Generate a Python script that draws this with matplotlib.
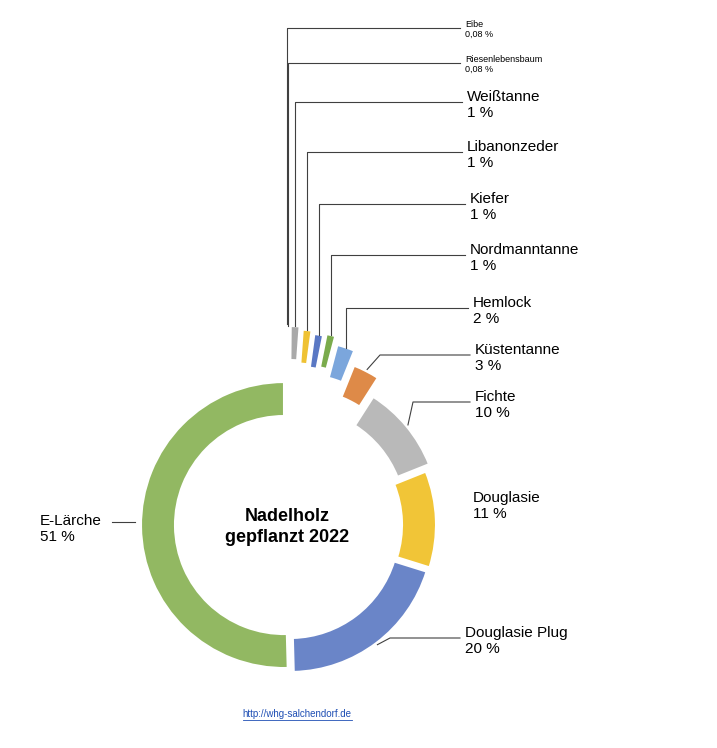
import matplotlib
matplotlib.use("Agg")
import matplotlib.pyplot as plt
import numpy as np

names = ["Eibe", "Riesenlebensbaum", "Weißtanne", "Libanonzeder", "Kiefer", "Nordmanntanne",
         "Hemlock", "Küstentanne", "Fichte", "Douglasie", "Douglasie Plug", "E-Lärche"]
values = [0.08, 0.08, 1, 1, 1, 1, 2, 3, 10, 11, 20, 51]
labels = ["0,08 %", "0,08 %", "1 %", "1 %", "1 %", "1 %", "2 %", "3 %", "10 %", "11 %", "20 %", "51 %"]
colors = ["#8fb0dc", "#e0a070", "#a9a9a9", "#efc234", "#5a78c4", "#7aab4c",
          "#7ba6dc", "#de8a48", "#b9b9b9", "#f1c537", "#6a85c8", "#92b862"]
explode_px = [58, 56, 56, 53, 50, 52, 44, 30, 12, 6, 5, 3]

W, H = 717, 748
fig = plt.figure(figsize=(W/100, H/100), dpi=100)
ax = fig.add_axes([0, 0, 1, 1])

cx, cy, R = 287, H-525, 143
width = 34
wedges, _ = ax.pie(values, radius=R, center=(cx, cy), startangle=90, counterclock=False,
                   colors=colors, explode=explode_px,
                   wedgeprops=dict(width=width, edgecolor="white", linewidth=1.5), frame=True)
ax.set_xlim(0, W); ax.set_ylim(0, H); ax.set_aspect("auto"); ax.axis("off")

def anchor(i, rr=R):
    w = wedges[i]
    th = np.deg2rad((w.theta1 + w.theta2)/2)
    r = rr + explode_px[i]
    return cx + r*np.cos(th), cy + r*np.sin(th)

lab = [(465, 20, True), (465, 55, True), (467, 90, False), (467, 140, False), (470, 192, False),
       (470, 243, False), (473, 296, False), (475, 343, False), (475, 390, False),
       (473, 491, False), (465, 626, False), (40, 514, False)]
for i, (lx, ly, small) in enumerate(lab):
    fs = 6.5 if small else 11
    ax.text(lx, H-ly, names[i] + "\n" + labels[i], fontsize=fs, family="Liberation Sans",
            va="top", ha="left", linespacing=1.1 if small else 1.15)
    lc = "#404040"
    yl = H-ly-(8 if small else 12)
    if i <= 6:
        x0, y0 = anchor(i)
        ax.plot([x0, x0, lx-5], [y0, yl, yl], color=lc, lw=0.8)
    elif i in (7, 8, 10):
        x0, y0 = anchor(i, R+2)
        ex = lx - (95 if i == 7 else 62 if i == 8 else 75)
        ax.plot([x0, ex, lx-5], [y0, yl, yl], color=lc, lw=0.8)
    elif i == 11:
        ax.plot([112, 135], [H-522, H-522], color=lc, lw=0.8)

ax.text(cx, cy-2, "Nadelholz\ngepflanzt 2022", ha="center", va="center", fontsize=13,
        fontweight="bold", family="Liberation Sans", linespacing=1.3)
ax.text(297, H-714, "http://whg-salchendorf.de", ha="center", va="center", fontsize=7,
        color="#1f4fb4", family="Liberation Sans")
ax.plot([243, 352], [H-720, H-720], color="#1f4fb4", lw=0.6)

fig.savefig("out.png", dpi=100)
